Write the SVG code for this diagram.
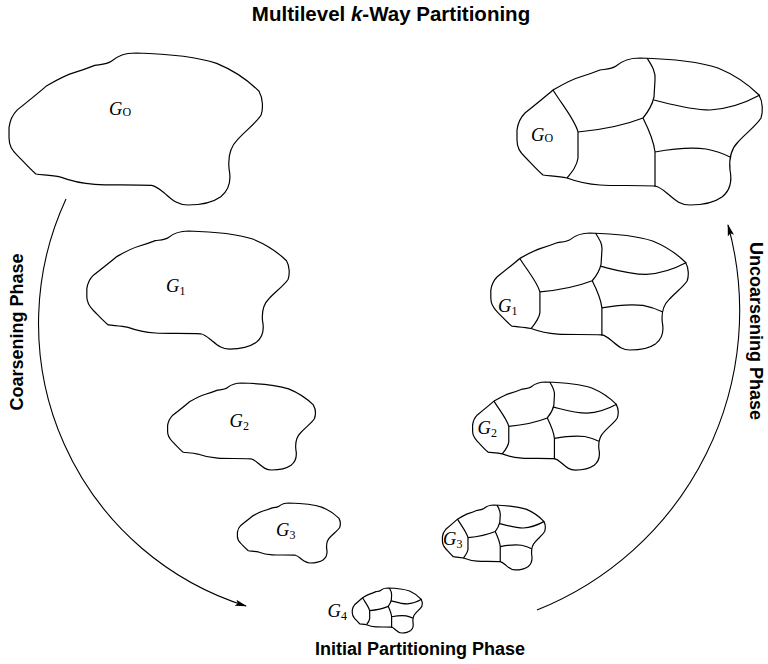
<svg xmlns="http://www.w3.org/2000/svg" xmlns:xlink="http://www.w3.org/1999/xlink" width="768" height="664" viewBox="0 0 768 664">
<style>
.sh{fill:none;stroke:#000;stroke-width:1.2;vector-effect:non-scaling-stroke;stroke-linejoin:round}
.g{font-family:"Liberation Serif","Times New Roman",serif;font-style:italic;font-size:18.5px;fill:#000}
.sub{font-style:normal;font-size:12px}
.lb{font-family:"Liberation Sans",Arial,sans-serif;font-weight:bold;font-size:18px;fill:#000}
.title{font-size:20.5px}
.arc{fill:none;stroke:#000;stroke-width:1.1}
</style>
<defs>
<path id="outline" class="sh" d="M600,70 C607,69 612,69 616,66 C622,61 628,58 640,58 C675,59 700,62 718,68 C735,75 750,86 759,95 C763,102 763,112 761,118 C757,125 745,134 738,142 C730,150 729,160 730,170 C732,180 731,190 722,197 C715,202 705,205 690,205 C680,205 675,200 668,194 C662,189 660,187 655,186 C635,185 615,186 600,185 C585,184 575,181 567,178 C558,176 550,176 543,175 C537,170 530,162 525,157 C520,152 517,148 517,140 L517,130 C518,122 520,118 525,113 C535,105 545,97 553,90 C560,86 570,80 580,77 C590,74 595,72 600,70 Z"/>
<path id="parts" class="sh" d="M553,90 C563,106 575,120 578,132 L578,158 C577,166 572,172 567,178 M578,132 C600,130 620,127 643,118 M647,58 C652,66 656,72 655,80 L654,97 C652,106 648,112 643,118 C650,132 654,142 655,152 L655,187 M654,100 C670,104 690,110 710,110 C728,109 745,103 760,95 M655,152 C672,149 690,147 706,149 C716,151 724,154 730,157"/>
<marker id="ah" viewBox="0 0 12 8" refX="11" refY="4" markerWidth="12" markerHeight="8" markerUnits="userSpaceOnUse" orient="auto">
<path d="M0,0.8 L12,4 L0,7.2 L2.5,4 Z" fill="#000"/>
</marker>
</defs>
<text class="lb title" x="391" y="21" text-anchor="middle">Multilevel <tspan font-style="italic">k</tspan>-Way Partitioning</text>
<g id="connectors">
<path class="arc" d="M66,199 A296,296 0 0,0 246,606" marker-end="url(#ah)"/>
<path class="arc" d="M537,610 A322,322 0 0,0 728,225" marker-end="url(#ah)"/>
</g>
<g id="G0-coarse">
<use xlink:href="#outline" transform="translate(8,53) scale(1.033,1.034) translate(-516,-58)"/>
<text class="g" x="109" y="115">G<tspan class="sub" dy="1">O</tspan></text>
</g>
<g id="G1-coarse">
<use xlink:href="#outline" transform="translate(86,231) scale(0.825,0.803) translate(-516,-58)"/>
<text class="g" x="166" y="292">G<tspan class="sub" dy="3">1</tspan></text>
</g>
<g id="G2-coarse">
<use xlink:href="#outline" transform="translate(167,383) scale(0.602,0.592) translate(-516,-58)"/>
<text class="g" x="229.5" y="427">G<tspan class="sub" dy="3">2</tspan></text>
</g>
<g id="G3-coarse">
<use xlink:href="#outline" transform="translate(237,503) scale(0.419,0.408) translate(-516,-58)"/>
<text class="g" x="276" y="536">G<tspan class="sub" dy="3">3</tspan></text>
</g>
<g id="G4">
<use xlink:href="#outline" transform="translate(352,588) scale(0.285,0.306) translate(-516,-58)"/>
<use xlink:href="#parts" transform="translate(352,588) scale(0.285,0.306) translate(-516,-58)"/>
<text class="g" x="327.5" y="616.5">G<tspan class="sub" dy="3">4</tspan></text>
</g>
<g id="G3-part">
<use xlink:href="#outline" transform="translate(442,505) scale(0.419,0.442) translate(-516,-58)"/>
<use xlink:href="#parts" transform="translate(442,505) scale(0.419,0.442) translate(-516,-58)"/>
<text class="g" x="443" y="545">G<tspan class="sub" dy="3">3</tspan></text>
</g>
<g id="G2-part">
<use xlink:href="#outline" transform="translate(472,382) scale(0.593,0.599) translate(-516,-58)"/>
<use xlink:href="#parts" transform="translate(472,382) scale(0.593,0.599) translate(-516,-58)"/>
<text class="g" x="477.5" y="434">G<tspan class="sub" dy="3">2</tspan></text>
</g>
<g id="G1-part">
<use xlink:href="#outline" transform="translate(490,233) scale(0.805,0.796) translate(-516,-58)"/>
<use xlink:href="#parts" transform="translate(490,233) scale(0.805,0.796) translate(-516,-58)"/>
<text class="g" x="498" y="312">G<tspan class="sub" dy="3">1</tspan></text>
</g>
<g id="G0-part">
<use xlink:href="#outline"/>
<use xlink:href="#parts"/>
<text class="g" x="531" y="141">G<tspan class="sub" dy="1">O</tspan></text>
</g>
<text class="lb" transform="translate(23,332) rotate(-90)" text-anchor="middle">Coarsening Phase</text>
<text class="lb" transform="translate(750,331) rotate(90)" text-anchor="middle">Uncoarsening Phase</text>
<text class="lb" x="420" y="655" text-anchor="middle">Initial Partitioning Phase</text>
</svg>
